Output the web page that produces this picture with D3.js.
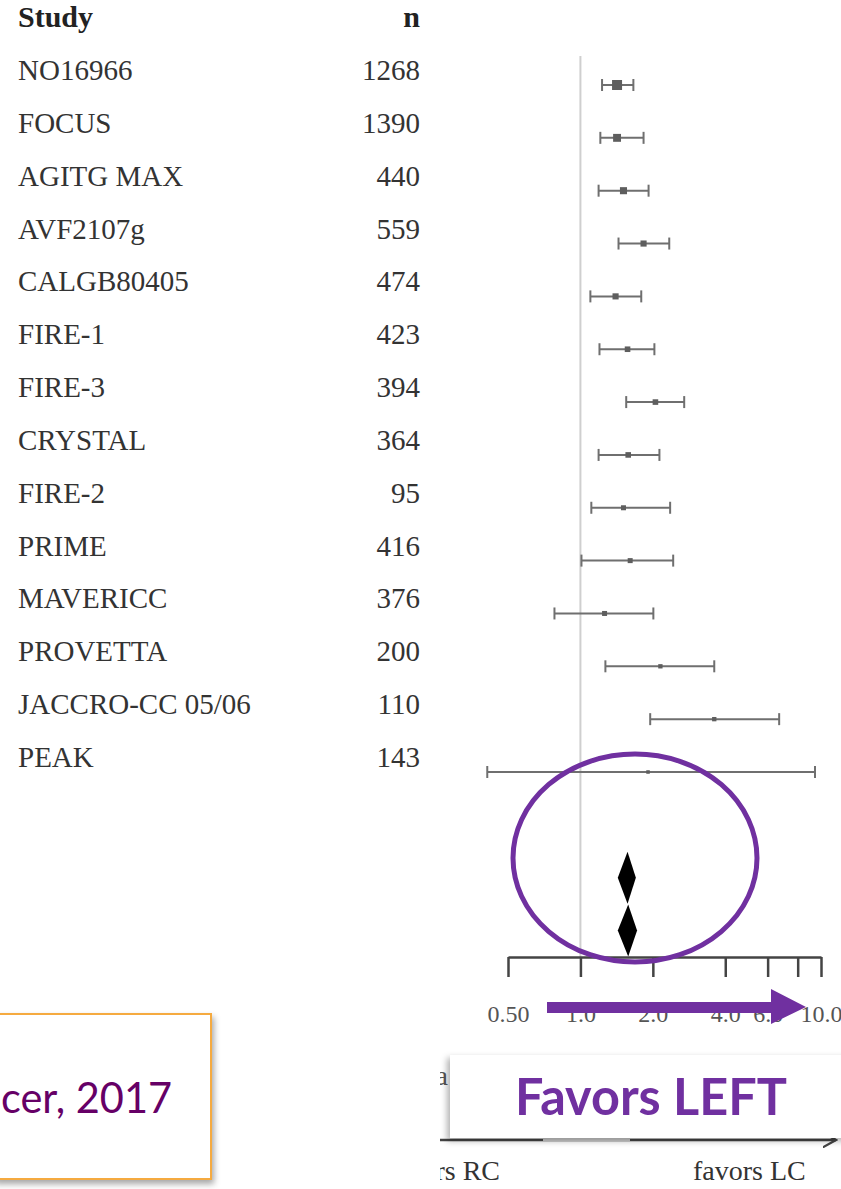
<!DOCTYPE html>
<html>
<head>
<meta charset="utf-8">
<script src="https://cdn.jsdelivr.net/npm/d3@7"></script>
<style>
  body { margin: 0; background: #fff; }
  svg { display: block; }
</style>
</head>
<body>
<div id="chart"></div>
<script>
// Study data
var studies = ["NO16966", "FOCUS", "AGITG MAX", "AVF2107g", "CALGB80405", "FIRE-1", "FIRE-3",
               "CRYSTAL", "FIRE-2", "PRIME", "MAVERICC", "PROVETTA", "JACCRO-CC 05/06", "PEAK"];
var nValues = [1268, 1390, 440, 559, 474, 423, 394, 364, 95, 416, 376, 200, 110, 143];
var estimates = [1.42, 1.42, 1.51, 1.83, 1.40, 1.57, 2.05, 1.58, 1.51, 1.61, 1.26, 2.15, 3.60, 1.91];
var lowerCI   = [1.23, 1.21, 1.19, 1.44, 1.10, 1.20, 1.55, 1.19, 1.11, 1.01, 0.78, 1.27, 1.95, 0.41];
var upperCI   = [1.66, 1.83, 1.92, 2.34, 1.79, 2.03, 2.70, 2.13, 2.36, 2.43, 2.01, 3.60, 6.70, 9.44];
var weights   = [16, 10, 8, 6, 6, 5, 5, 5, 4, 4, 4, 3, 3, 2];

// pooled estimates (two summary diamonds)
var pooledEst = [1.57, 1.58];
var pooledLo  = [1.43, 1.43];
var pooledHi  = [1.70, 1.72];

// axis ticks
var tickValues = [0.5, 1, 2, 4, 6, 8, 10];
var tickLabels = ["0.50", "1.0", "2.0", "4.0", "6.0", "", "10.0"];

var svgWidth = 841;
var svgHeight = 1189;
var purple = "#7030a0";
var serif = "'Liberation Serif', 'DejaVu Serif', serif";
var sans = "Lato, 'Open Sans', sans-serif";

var svg = d3.select("#chart")
  .append("svg")
  .attr("width", svgWidth)
  .attr("height", svgHeight);

var defs = svg.append("defs");
var shadow = defs.append("filter").attr("id", "shadow")
  .attr("x", "-10%").attr("y", "-10%").attr("width", "130%").attr("height", "140%");
shadow.append("feDropShadow").attr("dx", 2).attr("dy", 4).attr("stdDeviation", 3)
  .attr("flood-color", "#000").attr("flood-opacity", 0.35);
var shadow2 = defs.append("filter").attr("id", "shadow2")
  .attr("x", "-10%").attr("y", "-20%").attr("width", "130%").attr("height", "150%");
shadow2.append("feDropShadow").attr("dx", -3).attr("dy", 3).attr("stdDeviation", 3)
  .attr("flood-color", "#000").attr("flood-opacity", 0.3);
defs.append("clipPath").attr("id", "rightClip")
  .append("rect").attr("x", 440).attr("y", 1040).attr("width", 401).attr("height", 149);
defs.append("marker").attr("id", "openArrow")
  .attr("viewBox", "0 0 10 10").attr("refX", 9).attr("refY", 5)
  .attr("markerWidth", 6).attr("markerHeight", 6).attr("orient", "auto")
  .append("path").attr("d", "M0,0 L9,5 L0,10")
  .attr("fill", "none").attr("stroke", "#444").attr("stroke-width", 1.5);

// Scales
var x = d3.scaleLog().domain([0.5, 10]).range([508, 821]);
var y = d3.scaleLinear().domain([0, 13]).range([85, 772]);
var size = d3.scaleSqrt().domain([0, d3.max(weights)]).range([0, 10]);

var rows = studies.map(function(s, i) {
  return { study: s, n: nValues[i], est: estimates[i], lo: lowerCI[i], hi: upperCI[i], w: weights[i], i: i };
});

// Table headers
svg.append("text").attr("x", 18).attr("y", 27).text("Study")
  .attr("font-family", serif).attr("font-size", 30).attr("font-weight", "bold").attr("fill", "#222");
svg.append("text").attr("x", 420).attr("y", 27).attr("text-anchor", "end").text("n")
  .attr("font-family", serif).attr("font-size", 30).attr("font-weight", "bold").attr("fill", "#222");

// Study names and n
svg.selectAll("text.study").data(rows).enter().append("text")
  .attr("class", "study")
  .attr("x", 18).attr("y", d => y(d.i) - 5)
  .attr("font-family", serif).attr("font-size", 29).attr("fill", "#333")
  .text(d => d.study);

svg.selectAll("text.nval").data(rows).enter().append("text")
  .attr("class", "nval")
  .attr("x", 420).attr("y", d => y(d.i) - 5)
  .attr("text-anchor", "end")
  .attr("font-family", serif).attr("font-size", 29).attr("fill", "#333")
  .text(d => d.n);

// Reference line at 1.0
svg.append("line")
  .attr("x1", x(1)).attr("x2", x(1)).attr("y1", 56).attr("y2", 957)
  .attr("stroke", "#cfcfcf").attr("stroke-width", 2);

// CI lines
var ci = svg.append("g").attr("stroke", "#6f6f6f").attr("stroke-width", 2);
ci.selectAll("line.ci").data(rows).enter().append("line")
  .attr("x1", d => x(d.lo)).attr("x2", d => x(d.hi))
  .attr("y1", d => y(d.i)).attr("y2", d => y(d.i));
ci.selectAll("line.capl").data(rows).enter().append("line")
  .attr("x1", d => x(d.lo)).attr("x2", d => x(d.lo))
  .attr("y1", d => y(d.i) - 6).attr("y2", d => y(d.i) + 6);
ci.selectAll("line.caph").data(rows).enter().append("line")
  .attr("x1", d => x(d.hi)).attr("x2", d => x(d.hi))
  .attr("y1", d => y(d.i) - 6).attr("y2", d => y(d.i) + 6);

// Point markers
svg.selectAll("rect.pt").data(rows).enter().append("rect")
  .attr("x", d => x(d.est) - size(d.w) / 2)
  .attr("y", d => y(d.i) - size(d.w) / 2)
  .attr("width", d => size(d.w))
  .attr("height", d => size(d.w))
  .attr("fill", "#5e5e5e");

// Pooled diamonds
var pooled = pooledEst.map(function(e, k) {
  return { est: e, lo: pooledLo[k], hi: pooledHi[k], i: 15 + k };
});
svg.selectAll("path.diamond").data(pooled).enter().append("path")
  .attr("d", function(d) {
    var cy = y(d.i), h = 26;
    return "M" + x(d.est) + "," + (cy - h) +
      "L" + x(d.hi) + "," + cy +
      "L" + x(d.est) + "," + (cy + h) +
      "L" + x(d.lo) + "," + cy + "Z";
  })
  .attr("fill", "#000");

// Bottom axis
var axis = d3.axisBottom(x)
  .tickValues(tickValues)
  .tickFormat((d, i) => tickLabels[i])
  .tickSize(20)
  .tickSizeOuter(0)
  .tickPadding(28);
var axisG = svg.append("g")
  .attr("transform", "translate(0,957)")
  .call(axis);
axisG.select(".domain").attr("stroke", "#444").attr("stroke-width", 2.5);
axisG.selectAll(".tick line").attr("stroke", "#444").attr("stroke-width", 2.5);
axisG.selectAll(".tick text")
  .attr("font-family", serif).attr("font-size", 24).attr("fill", "#555");

// Purple ellipse highlight
svg.append("ellipse")
  .attr("cx", 635).attr("cy", 858).attr("rx", 122).attr("ry", 104)
  .attr("fill", "none").attr("stroke", purple).attr("stroke-width", 5);

// Purple arrow
svg.append("path")
  .attr("d", "M547,1002 L771,1002 L771,989 L806,1007 L771,1024 L771,1013 L547,1013 Z")
  .attr("fill", purple);

// Citation box
svg.append("rect")
  .attr("x", -6).attr("y", 1014).attr("width", 217).attr("height", 165)
  .attr("fill", "#fff").attr("stroke", "#f5aa40").attr("stroke-width", 2)
  .attr("filter", "url(#shadow)");
svg.append("text")
  .attr("x", 1).attr("y", 1113)
  .attr("font-family", sans).attr("font-size", 43).attr("fill", "#660066")
  .attr("textLength", 171).attr("lengthAdjust", "spacingAndGlyphs")
  .text("cer, 2017");

// Bottom right: underlying axis caption + Favors LEFT box
var br = svg.append("g").attr("clip-path", "url(#rightClip)");
br.append("text").attr("x", 448).attr("y", 1085).attr("text-anchor", "end")
  .attr("font-family", serif).attr("font-size", 28).attr("fill", "#555").text("a");
br.append("line").attr("x1", 430).attr("x2", 836).attr("y1", 1140).attr("y2", 1140)
  .attr("stroke", "#444").attr("stroke-width", 2.5).attr("marker-end", "url(#openArrow)");
br.append("line").attr("x1", 543).attr("x2", 630).attr("y1", 1140).attr("y2", 1140)
  .attr("stroke", "#ccc").attr("stroke-width", 3);
br.append("text").attr("x", 500).attr("y", 1180).attr("text-anchor", "end")
  .attr("font-family", serif).attr("font-size", 28).attr("fill", "#333").text("favors RC");
br.append("text").attr("x", 693).attr("y", 1180)
  .attr("font-family", serif).attr("font-size", 28).attr("fill", "#333").text("favors LC");

svg.append("rect")
  .attr("x", 450).attr("y", 1055).attr("width", 400).attr("height", 83)
  .attr("fill", "#fff").attr("filter", "url(#shadow2)");
svg.append("text")
  .attr("x", 515).attr("y", 1115)
  .attr("font-family", sans).attr("font-size", 51).attr("font-weight", "bold")
  .attr("fill", purple)
  .attr("textLength", 272).attr("lengthAdjust", "spacingAndGlyphs")
  .text("Favors LEFT");
</script>
</body>
</html>
